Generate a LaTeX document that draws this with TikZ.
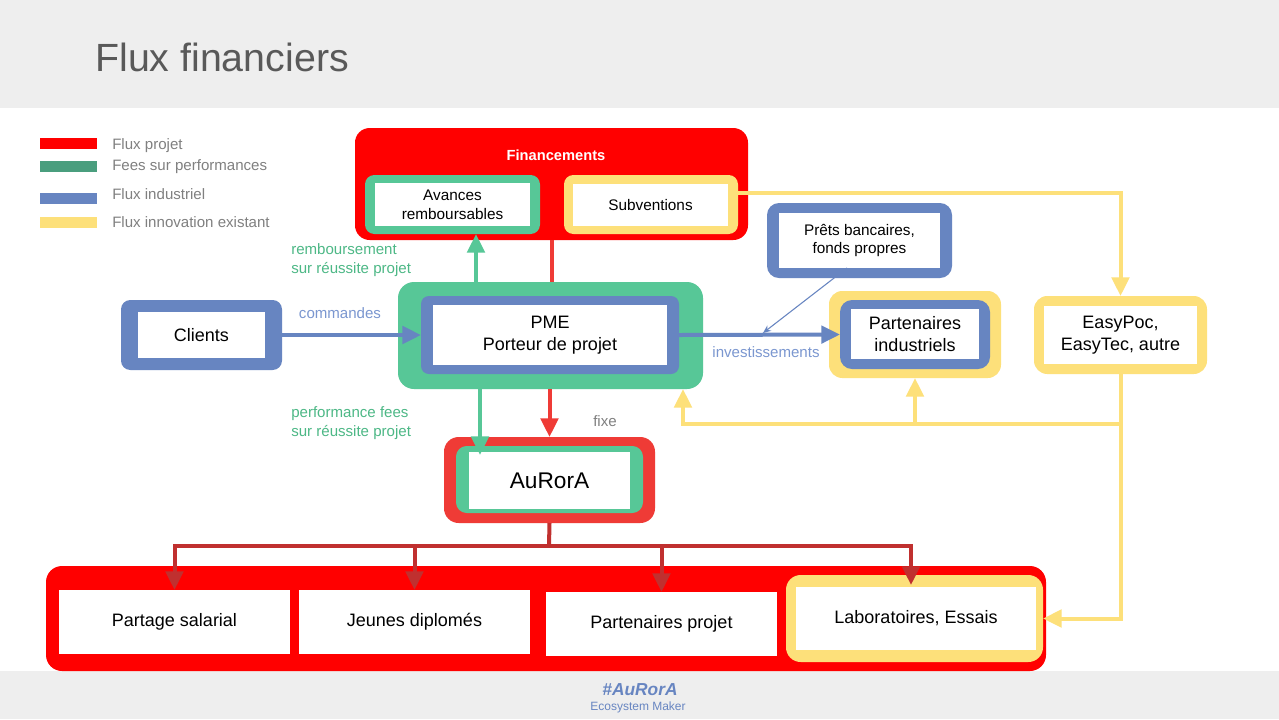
\documentclass[tikz,border=0pt]{standalone}
\usepackage{fontspec}
\setmainfont{Liberation Sans}
\usetikzlibrary{arrows.meta,calc}
\definecolor{cRed}{HTML}{FF0000}
\definecolor{cRedB}{HTML}{EF3B36}
\definecolor{cDark}{HTML}{C0302F}
\definecolor{cGreen}{HTML}{57C797}
\definecolor{cGreenL}{HTML}{4A9E7E}
\definecolor{cGreenT}{HTML}{4DB886}
\definecolor{cBlue}{HTML}{6785C1}
\definecolor{cBlueT}{HTML}{7B97D0}
\definecolor{cYel}{HTML}{FDE07A}
\definecolor{cBand}{HTML}{EEEEEE}
\definecolor{cTxt}{HTML}{808080}
\definecolor{cTitle}{HTML}{595959}
\newcommand{\mybox}[7]{\node[#6, minimum width={(#4-#2)*0.75pt}, minimum height={(#5-#3)*0.75pt}] (#1) at ({(#2+#4)/2},{(#3+#5)/2}) {#7};}
\tikzset{
  fr/.style={fill=#1, draw=none, inner sep=0pt, outer sep=0pt, rounded corners=7pt},
  wb/.style={fill=white, inner sep=0pt, outer sep=0pt, align=center, font=\fontsize{13.5}{16.5}\selectfont},
  ws/.style={wb, font=\fontsize{11.5}{14}\selectfont},
  lbl/.style={inner sep=0pt, align=left, font=\fontsize{11.3}{14.2}\selectfont},
  leg/.style={inner sep=0pt, anchor=west, text=cTxt, font=\fontsize{11.3}{12}\selectfont},
  tip/.style={-{Triangle[length=14pt,width=13pt]}},
  con/.style={line width=3pt},
}
\begin{document}
\begin{tikzpicture}[x=0.75pt,y=-0.75pt]
\useasboundingbox (0,0) rectangle (1279,719);
\fill[white] (0,0) rectangle (1279,719);
% bands
\mybox{hdr}{0}{0}{1279}{108}{fill=cBand,inner sep=0pt}{}
\mybox{ftr}{0}{671}{1279}{719}{fill=cBand,inner sep=0pt}{}
\node[anchor=west, inner sep=0pt, text=cTitle, font=\fontsize{29.5}{32}\selectfont] (title) at (95,57) {Flux financiers};
\node[inner sep=0pt, text=cBlue, font=\fontsize{13}{14}\bfseries\itshape] (tag) at (640,690) {\#AuRorA};
\node[inner sep=0pt, text=cBlue, font=\fontsize{9}{10}\selectfont] (eco) at (638,707) {Ecosystem Maker};

% legend
\mybox{lg1}{40}{138}{97}{149}{fill=cRed,inner sep=0pt}{}
\mybox{lg2}{40}{161}{97}{172}{fill=cGreenL,inner sep=0pt}{}
\mybox{lg3}{40}{193}{97}{204}{fill=cBlue,inner sep=0pt}{}
\mybox{lg4}{40}{217}{97}{228}{fill=cYel,inner sep=0pt}{}
\node[leg] (lt1) at (112,146) {Flux projet};
\node[leg] (lt2) at (112,167) {Fees sur performances};
\node[leg] (lt3) at (112,194) {Flux industriel};
\node[leg] (lt4) at (112,222) {Flux innovation existant};

% Financements
\mybox{fin}{355}{128}{748}{240}{fr=cRed, rounded corners=11pt}{}
\node[inner sep=0pt, text=white, font=\fontsize{11}{13}\bfseries] (fint) at (556,155) {Financements};
\mybox{avo}{365}{175}{540}{234}{fr=cGreen}{}
\mybox{av}{375}{183}{530}{226}{ws}{Avances\\remboursables}
\mybox{subo}{564}{175}{738}{234}{fr=cYel}{}
\mybox{sub}{573}{184}{728}{226}{ws}{Subventions}

% PME
\mybox{pmeo}{398}{282}{703}{389}{fr=cGreen, rounded corners=12pt}{}
\mybox{pmeb}{421}{296}{679}{374}{fr=cBlue, rounded corners=6pt}{}
\mybox{pme}{433}{305}{667}{365}{wb}{PME\\Porteur de projet}

% Clients
\mybox{clo}{121}{300}{282}{370}{fr=cBlue}{}
\mybox{cl}{138}{312}{265}{358}{wb}{Clients}

% Prets
\mybox{pbo}{767}{203}{952}{278}{fr=cBlue, rounded corners=9pt}{}
\mybox{pb}{779}{213}{940}{268}{ws}{Prêts bancaires,\\fonds propres}

% Partenaires industriels
\mybox{pio}{829}{291}{1001}{378}{fr=cYel, rounded corners=10pt}{}
\mybox{pib}{840}{300}{990}{369}{fr=cBlue, rounded corners=9pt}{}
\mybox{pi}{851}{309}{979}{359}{wb}{Partenaires\\industriels}

% EasyPoc
\mybox{epo}{1034}{296}{1207}{374}{fr=cYel, rounded corners=10pt}{}
\mybox{ep}{1044}{306}{1197}{364}{wb}{EasyPoc,\\EasyTec, autre}

% AuRorA
\mybox{aur}{444}{437}{655}{523}{fr=cRedB, rounded corners=11pt}{}
\mybox{aug}{456}{446}{643}{513}{fr=cGreen, rounded corners=8pt}{}
\mybox{au}{469}{452}{630}{509}{wb, font=\fontsize{17}{20}\selectfont}{AuRorA}

% bottom
\mybox{bot}{46}{566}{1046}{671}{fr=cRed, rounded corners=12pt}{}
\mybox{ps}{59}{590}{290}{654}{wb}{Partage salarial}
\mybox{jd}{299}{590}{530}{654}{wb}{Jeunes diplomés}
\mybox{pp}{546}{592}{777}{656}{wb}{Partenaires projet}
\mybox{labo}{786}{575}{1043}{662}{fr=cYel, rounded corners=11pt}{}
\mybox{lab}{796}{587}{1036}{650}{wb}{Laboratoires, Essais}

% helper coordinates
\coordinate (gx) at (476,0);
\coordinate (gx2) at (480,0);
\coordinate (ya) at (0,193);
\coordinate (yb) at (1120,424);
\coordinate (pmec) at (683,389);
\coordinate (inv) at (763,333);
\coordinate (pbs) at (847,268);
\coordinate (bus) at (549,546);
\coordinate (labt) at (911,585);

% connectors
\draw[con, cBlue, tip] (clo.east) -- (pmeb.west);
\draw[con, cBlue, tip] (pmeb.east) -- (pib.west);
\draw[cBlue, line width=0.8pt, -{Stealth[length=6pt,width=5pt]}] (pbs) -- (inv);
\draw[con, cGreen, tip] (pmeo.north -| gx) -- (avo.south -| gx);
\draw[con, cRedB] (fin.south) -- (fin.south |- pmeo.north);
\draw[con, cGreen, tip] (pmeo.south -| gx2) -- ($(au.north -| gx2)+(0,3)$);
\draw[con, cRedB, tip] (pmeo.south -| aur.north) -- (aur.north);
\draw[con, cYel, tip] (subo.east |- ya) -| (epo.north);
\draw[con, cYel, tip] (epo.south) |- (labo.east);
\draw[con, cYel, tip] (yb) -| (pmec);
\draw[con, cYel, tip] (yb) -| (pio.south);
\draw[con, cDark] (aur.south) -- (bus);
\draw[con, cDark, tip] (bus) -| (ps.north);
\draw[con, cDark, tip] (bus) -| (jd.north);
\draw[con, cDark, tip] (bus) -| (pp.north);
\draw[con, cDark, tip] (bus) -| (labt);

% labels
\node[lbl, text=cBlueT, anchor=center] (lcmd) at (340,313) {commandes};
\node[lbl, text=cBlueT, anchor=center] (linv) at (766,352) {investissements};
\node[lbl, text=cGreenT, anchor=west] (lremb) at (291,260) {remboursement\\sur réussite projet};
\node[lbl, text=cGreenT, anchor=west] (lperf) at (291,423) {performance fees\\sur réussite projet};
\node[lbl, text=cTxt, anchor=center] (lfix) at (605,421) {fixe};
\end{tikzpicture}
\end{document}
